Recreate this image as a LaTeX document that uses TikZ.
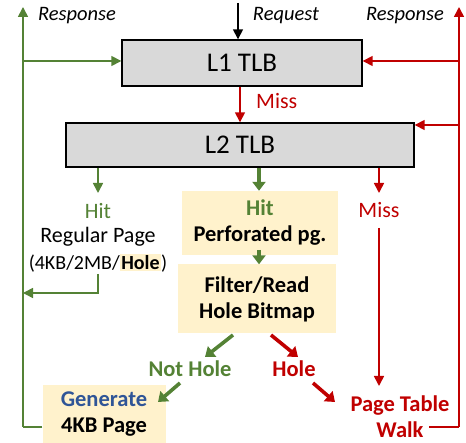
\documentclass[tikz,border=0pt]{standalone}
\usepackage{fontspec}
\setmainfont{Carlito}
\usetikzlibrary{arrows.meta,calc}
\definecolor{tgreen}{RGB}{84,130,53}
\definecolor{tred}{RGB}{192,0,0}
\definecolor{tcream}{RGB}{255,242,204}
\definecolor{tblue}{RGB}{47,85,151}
\definecolor{tgray}{RGB}{217,217,217}
\begin{document}
\begin{tikzpicture}[x=1pt,y=-1pt,
  tlb/.style={draw=black,line width=1.4pt,fill=tgray,inner sep=0pt,font=\fontsize{27}{30}\selectfont},
  cbox/.style={fill=tcream,inner sep=0pt,align=center,font=\fontsize{22.5}{26}\selectfont\bfseries},
  lbl/.style={inner sep=1pt,font=\fontsize{22}{24}\selectfont},
  blbl/.style={inner sep=1pt,font=\fontsize{22.5}{26}\selectfont\bfseries},
  ital/.style={inner sep=1pt,font=\fontsize{20.5}{22}\selectfont\itshape},
  thin/.style={line width=1.6pt,-{Triangle[length=10pt,width=10pt]}},
  plain/.style={line width=1.6pt},
  thick/.style={line width=3.6pt,-{Triangle[length=9pt,width=13pt]}},
  gthin/.style={thin,draw=tgreen,color=tgreen},
  rthin/.style={thin,draw=tred,color=tred}]
\useasboundingbox (0,0) rectangle (466,443);
% main boxes
\node[tlb,minimum width=240,minimum height=46] (l1) at (242,63) {L1 TLB};
\node[tlb,minimum width=348,minimum height=44] (l2) at (240,145) {L2 TLB};
% top labels
\node[ital] (req) at (286,16) {Request};
\node[ital] (respl) at (77,16) {Response};
\node[ital] (respr) at (405,16) {Response};
\coordinate (reqtop) at (238,3);
\coordinate (gtop) at (23,7);
\coordinate (rtop) at (459,7);
% request and miss
\draw[thin] (reqtop) -- (reqtop |- l1.north);
\draw[rthin] (l1.south -| 240,0) -- (l2.north -| 240,0);
\node[lbl,text=tred,anchor=west] (miss1) at (255,101) {Miss};
% left column labels
\node[lbl,text=tgreen] (hit1) at (98,211) {Hit};
\node[lbl] (reg) at (98,237) {Regular Page};
\node[lbl,font=\fontsize{20}{24}\selectfont] (reg2) at (98,263) {(4KB/2MB/{\setlength\fboxsep{1.5pt}\colorbox{tcream}{\textbf{Hole}}})};
% center boxes
\node[cbox,minimum width=156,minimum height=64] (perf) at (260,223) {\textcolor{tgreen}{Hit}\\Perforated pg.};
\node[cbox,minimum width=158,minimum height=69] (filt) at (257,299) {Filter/Read\\Hole Bitmap};
\node[blbl,text=tgreen] (nothole) at (190,369) {Not Hole};
\node[blbl,text=tred] (holel) at (294,369) {Hole};
\node[cbox,minimum width=123,minimum height=58] (gen) at (104,414) {\textcolor{tblue}{Generate}\\4KB Page};
% right column
\node[lbl,text=tred] (miss2) at (379,210) {Miss};
\node[blbl,text=tred,align=center] (ptw) at (400,417) {Page Table\\Walk};
% L2 outgoing
\draw[gthin] (l2.south -| 98,0) -- (98,193);
\draw[thick,draw=tgreen,color=tgreen] (l2.south -| 259,0) -- (perf.north -| 259,0);
\draw[rthin] (l2.south -| 379,0) -- (379,193);
% regular page back to left
\draw[gthin] (98,274) -- (98,293) -- (23,293);
% perf to filter
\draw[thick,draw=tgreen,color=tgreen] (259,250) -- (filt.north -| 259,0);
% diagonals
\coordinate (d1a) at (233,335); \coordinate (d1b) at (205,357);
\coordinate (d2a) at (180,383); \coordinate (d2b) at (158,402);
\coordinate (d3a) at (271,335); \coordinate (d3b) at (298,357);
\coordinate (d4a) at (313,383); \coordinate (d4b) at (335,402);
\draw[thick,draw=tgreen,color=tgreen] (d1a) -- (d1b);
\draw[thick,draw=tgreen,color=tgreen] (d2a) -- (d2b);
\draw[thick,draw=tred,color=tred] (d3a) -- (d3b);
\draw[thick,draw=tred,color=tred] (d4a) -- (d4b);
% miss to page table walk
\draw[rthin] (379,228) -- (379,386);
% right response
\coordinate (rbot) at (459,427);
\draw[plain,draw=tred] (429,427) -- (rbot);
\draw[rthin] (rbot) -- (rtop);
\draw[rthin] (459,61) -- (l1.east |- 0,61);
\draw[rthin] (459,125) -- (l2.east |- 0,125);
% left response
\coordinate (gbot) at (23,427);
\draw[plain,draw=tgreen] (gen.west |- 0,427) -- (gbot);
\draw[gthin] (gbot) -- (gtop);
\draw[gthin] (23,61) -- (l1.west |- 0,61);
\end{tikzpicture}
\end{document}
